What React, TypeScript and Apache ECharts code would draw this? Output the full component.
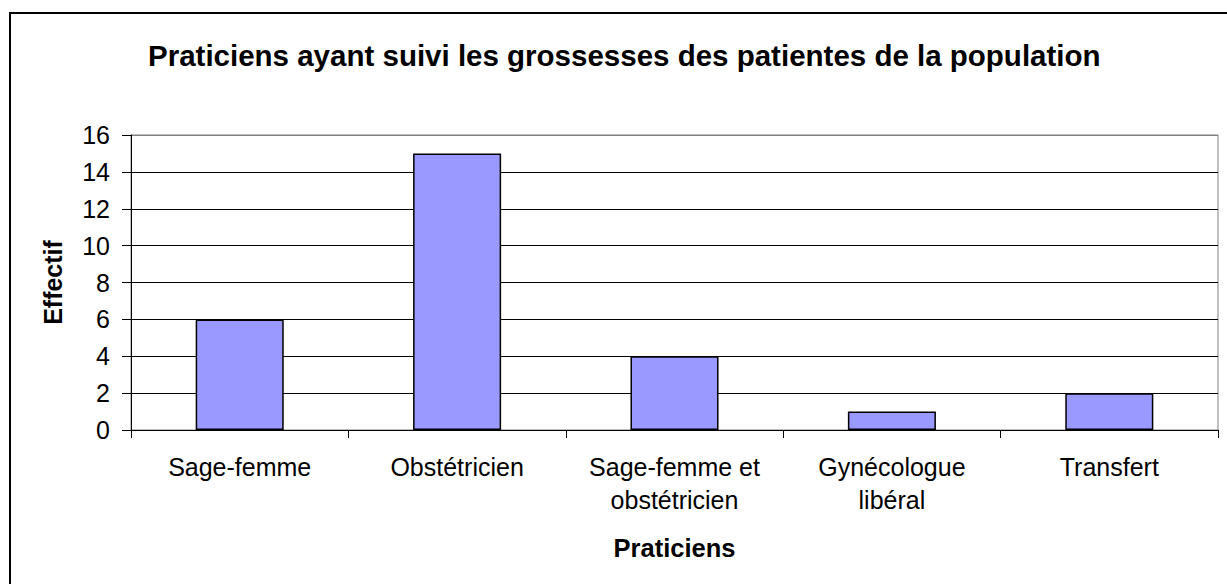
import React, { useEffect, useRef } from "react";
import * as echarts from "echarts";

const categories = [
  "Sage-femme",
  "Obstétricien",
  "Sage-femme et\nobstétricien",
  "Gynécologue\nlibéral",
  "Transfert",
];
const effectifs = [6, 15, 4, 1, 2];
const titleText = "Praticiens ayant suivi les grossesses des patientes de la population";
const xAxisName = "Praticiens";
const yAxisName = "Effectif";

const FONT = "'Liberation Sans', Arial, sans-serif";

export default function App() {
  const ref = useRef<HTMLDivElement>(null);
  useEffect(() => {
    if (!ref.current) return;
    const chart = echarts.init(ref.current, null, { renderer: "svg" });
    chart.setOption({
      animation: false,
      backgroundColor: "#ffffff",
      textStyle: { fontFamily: FONT },
      title: {
        text: titleText,
        left: 148,
        top: 40,
        padding: 0,
        textStyle: { fontFamily: FONT, fontSize: 29.5, fontWeight: "bold", color: "#000" },
      },
      graphic: [
        {
          type: "rect",
          shape: { x: 10, y: 13, width: 1400, height: 800 },
          style: { fill: "none", stroke: "#000", lineWidth: 2 },
          silent: true,
          z: 100,
        },
      ],
      grid: {
        left: 131,
        right: 9,
        top: 135,
        bottom: 154,
        show: true,
        borderColor: "#808080",
        borderWidth: 1,
        backgroundColor: "transparent",
      },
      xAxis: {
        type: "category",
        data: categories,
        name: xAxisName,
        nameLocation: "middle",
        nameGap: 105,
        nameTextStyle: { fontFamily: FONT, fontSize: 25.5, fontWeight: "bold", color: "#000" },
        axisLine: { lineStyle: { color: "#000", width: 1 } },
        axisTick: { show: true, length: 8, lineStyle: { color: "#000" } },
        axisLabel: {
          interval: 0,
          margin: 20,
          fontFamily: FONT,
          fontSize: 25,
          lineHeight: 33,
          color: "#000",
        },
        splitLine: { show: false },
      },
      yAxis: {
        type: "value",
        min: 0,
        max: 16,
        interval: 2,
        name: yAxisName,
        nameLocation: "middle",
        nameGap: 66,
        nameTextStyle: { fontFamily: FONT, fontSize: 25, fontWeight: "bold", color: "#000" },
        axisLine: { show: true, lineStyle: { color: "#000", width: 1 } },
        axisTick: { show: true, length: 9, lineStyle: { color: "#000" } },
        axisLabel: { margin: 21, fontFamily: FONT, fontSize: 25, color: "#000" },
        splitLine: {
          show: true,
          lineStyle: {
            color: ["#000", "#000", "#000", "#000", "#000", "#000", "#000", "#000", "#808080"],
            width: 1,
          },
        },
      },
      series: [
        {
          type: "bar",
          data: effectifs,
          barWidth: "40.5%",
          itemStyle: { color: "#9999FF", borderColor: "#000", borderWidth: 1.5 },
        },
      ],
    });
    return () => chart.dispose();
  }, []);
  return (
    <div
      ref={ref}
      style={{ position: "absolute", left: 0, top: 0, width: 1227, height: 584 }}
    />
  );
}
